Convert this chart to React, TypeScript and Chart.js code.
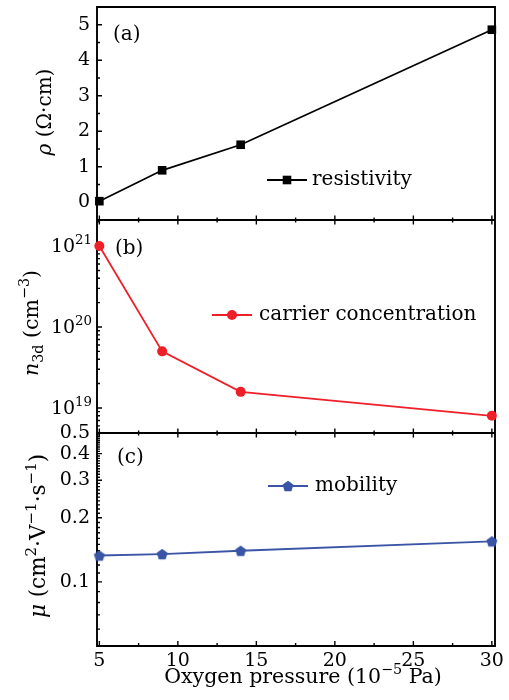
import React, { useEffect, useRef } from 'react';
import { Chart, registerables } from 'chart.js';

Chart.register(...registerables);

// ---- data ----
const pressure = [5, 9, 14, 30];
const resistivity = [0.03, 0.9, 1.62, 4.86];
const carrier = [1.0e21, 5.0e19, 1.58e19, 8.0e18];
const mobility = [0.133, 0.135, 0.14, 0.155];

const xTicks = [5, 10, 15, 20, 25, 30];
const rhoTicks = [0, 1, 2, 3, 4, 5];
const nTicks = [1e19, 1e20, 1e21];
const nTickExponents = ['19', '20', '21'];
const muTicks = [0.1, 0.2, 0.3, 0.4, 0.5];
const muTickLabels = ['0.1', '0.2', '0.3', '0.4', '0.5'];
const legendLabels = ['resistivity', 'carrier concentration', 'mobility'];
const panelLabels = ['(a)', '(b)', '(c)'];

const BLACK = '#000000';
const RED = '#EF1F29';
const BLUE = '#3A55A6';
const FAMILY = '"DejaVu Serif"';

type Seg = { t: string; it?: boolean; sup?: boolean; sub?: boolean };

const titleA: Seg[] = [{ t: 'ρ', it: true }, { t: ' (Ω·cm)' }];
const titleB: Seg[] = [{ t: 'n', it: true }, { t: '3d', sub: true }, { t: ' (cm' }, { t: '−3', sup: true }, { t: ')' }];
const titleC: Seg[] = [
  { t: 'μ', it: true }, { t: ' (cm' }, { t: '2', sup: true }, { t: '·V' }, { t: '−1', sup: true },
  { t: '·s' }, { t: '−1', sup: true }, { t: ')' },
];
const titleX: Seg[] = [{ t: 'Oxygen pressure (10' }, { t: '−5', sup: true }, { t: ' Pa)' }];

function fnt(size: number, italic = false) {
  return `${italic ? 'italic ' : ''}${size}px ${FAMILY}`;
}
function segFont(s: Seg, size: number) {
  return fnt(s.sup || s.sub ? size * 0.7 : size, !!s.it);
}
function richWidth(ctx: CanvasRenderingContext2D, segs: Seg[], size: number) {
  let w = 0;
  for (const s of segs) {
    ctx.font = segFont(s, size);
    w += ctx.measureText(s.t).width;
  }
  return w;
}
function drawRich(ctx: CanvasRenderingContext2D, segs: Seg[], x: number, y: number, size: number, align: 'left' | 'center' | 'right') {
  const w = richWidth(ctx, segs, size);
  let cx = align === 'center' ? x - w / 2 : align === 'right' ? x - w : x;
  ctx.textAlign = 'left';
  ctx.textBaseline = 'alphabetic';
  for (const s of segs) {
    ctx.font = segFont(s, size);
    const dy = s.sup ? -size * 0.42 : s.sub ? size * 0.24 : 0;
    ctx.fillText(s.t, cx, y + dy);
    cx += ctx.measureText(s.t).width;
  }
}

function makePentagon(color: string, r: number) {
  const c = document.createElement('canvas');
  const size = Math.ceil(r * 2 + 2);
  c.width = size;
  c.height = size;
  const g = c.getContext('2d')!;
  g.fillStyle = color;
  g.beginPath();
  for (let i = 0; i < 5; i++) {
    const a = -Math.PI / 2 + (i * 2 * Math.PI) / 5;
    const px = size / 2 + r * Math.cos(a);
    const py = size / 2 + 0.6 + r * Math.sin(a);
    if (i === 0) g.moveTo(px, py);
    else g.lineTo(px, py);
  }
  g.closePath();
  g.fill();
  return c;
}

const noPad = (s: any) => {
  s.paddingTop = 0;
  s.paddingBottom = 0;
  s.paddingLeft = 0;
  s.paddingRight = 0;
};

export default function App() {
  const ref = useRef<HTMLCanvasElement>(null);

  useEffect(() => {
    const canvas = ref.current!;
    const pent = makePentagon(BLUE, 5.8);

    const framePlugin = {
      id: 'frame',
      beforeDatasetsDraw(chart: any) {
        const ctx: CanvasRenderingContext2D = chart.ctx;
        const x = chart.scales.x;
        const ya = chart.scales.ya;
        const yb = chart.scales.yb;
        const yc = chart.scales.yc;
        const L = x.left, R = x.right;
        ctx.save();
        ctx.strokeStyle = BLACK;
        ctx.lineWidth = 1.9;
        ctx.beginPath();
        ctx.rect(L, ya.top, R - L, yc.bottom - ya.top);
        ctx.moveTo(L, ya.bottom);
        ctx.lineTo(R, ya.bottom);
        ctx.moveTo(L, yb.bottom);
        ctx.lineTo(R, yb.bottom);
        ctx.stroke();

        ctx.lineWidth = 1.4;
        ctx.beginPath();
        const yTick = (scale: any, v: number, len: number) => {
          const p = scale.getPixelForValue(v);
          if (p < scale.top + 1 || p > scale.bottom - 1) return;
          ctx.moveTo(L, p);
          ctx.lineTo(L + len, p);
        };
        // panel a
        for (let v = -0.5; v <= 5.5; v += 0.5) {
          yTick(ya, v, rhoTicks.includes(v) ? 5 : 3);
        }
        // panel b
        for (let e = 18; e <= 21; e++) {
          for (let m = 1; m <= 9; m++) {
            const v = m * Math.pow(10, e);
            yTick(yb, v, m === 1 ? 5 : 3);
          }
        }
        // panel c
        for (let k = 5; k <= 50; k++) {
          const v = k / 100;
          yTick(yc, v, k % 10 === 0 ? 5 : 3);
        }
        // x ticks
        const xs: { v: number; major: boolean }[] = [];
        for (let v = 5; v <= 30; v += 2.5) xs.push({ v, major: v % 5 === 0 });
        for (const t of xs) {
          const p = x.getPixelForValue(t.v);
          const lm = t.major ? 4.5 : 2.5;
          for (const yy of [ya.bottom, yb.bottom]) {
            ctx.moveTo(p, yy - lm);
            ctx.lineTo(p, yy + lm);
          }
          ctx.moveTo(p, yc.bottom);
          ctx.lineTo(p, yc.bottom - (t.major ? 5 : 3));
        }
        ctx.stroke();
        ctx.restore();
      },
      afterDraw(chart: any) {
        const ctx: CanvasRenderingContext2D = chart.ctx;
        const yb = chart.scales.yb;
        ctx.save();
        ctx.fillStyle = BLACK;

        // panel b tick labels 10^n
        nTicks.forEach((v, i) => {
          const p = yb.getPixelForValue(v);
          ctx.font = fnt(19 * 0.7);
          ctx.textAlign = 'right';
          ctx.textBaseline = 'alphabetic';
          const ew = ctx.measureText(nTickExponents[i]).width;
          ctx.fillText(nTickExponents[i], 92, p + 6 - 8);
          ctx.font = fnt(19);
          ctx.fillText('10', 92 - ew, p + 6);
        });

        // axis titles (rotated)
        const rot = (segs: Seg[], bx: number, cy: number, size: number) => {
          ctx.save();
          ctx.translate(bx, cy);
          ctx.rotate(-Math.PI / 2);
          drawRich(ctx, segs, 0, 0, size, 'center');
          ctx.restore();
        };
        rot(titleA, 51, 112, 20);
        rot(titleB, 38, 323, 20.5);
        rot(titleC, 45, 536, 21.5);

        // x title
        drawRich(ctx, titleX, 303, 683, 20.5, 'center');

        // panel labels
        ctx.font = fnt(20);
        ctx.textAlign = 'left';
        ctx.textBaseline = 'alphabetic';
        ctx.fillText(panelLabels[0], 113, 40);
        ctx.fillText(panelLabels[1], 115, 254);
        ctx.fillText(panelLabels[2], 117, 463);

        // legends
        const legend = (x0: number, y0: number, color: string, kind: string, label: string, tx: number, ty: number) => {
          ctx.strokeStyle = color;
          ctx.lineWidth = 1.8;
          ctx.beginPath();
          ctx.moveTo(x0, y0);
          ctx.lineTo(x0 + 40, y0);
          ctx.stroke();
          ctx.fillStyle = color;
          const cx = x0 + 20;
          if (kind === 'rect') {
            ctx.fillRect(cx - 4.3, y0 - 4.3, 8.6, 8.6);
          } else if (kind === 'circle') {
            ctx.beginPath();
            ctx.arc(cx, y0, 5, 0, Math.PI * 2);
            ctx.fill();
          } else {
            ctx.drawImage(pent, cx - pent.width / 2, y0 - pent.height / 2);
          }
          ctx.fillStyle = BLACK;
          ctx.font = fnt(20);
          ctx.textAlign = 'left';
          ctx.textBaseline = 'alphabetic';
          ctx.fillText(label, tx, ty);
        };
        legend(267, 180, BLACK, 'rect', legendLabels[0], 312, 185);
        legend(212, 315, RED, 'circle', legendLabels[1], 259, 320);
        legend(268, 486, BLUE, 'pent', legendLabels[2], 315, 491);

        ctx.restore();
      },
    };

    const tickFont = { family: 'DejaVu Serif', size: 19 };

    const chart = new Chart(canvas, {
      type: 'line',
      data: {
        datasets: [
          {
            label: legendLabels[0],
            data: pressure.map((x, i) => ({ x, y: resistivity[i] })),
            yAxisID: 'ya',
            borderColor: BLACK,
            backgroundColor: BLACK,
            borderWidth: 1.8,
            pointStyle: 'rect',
            pointRadius: 6.1,
            pointBorderWidth: 0,
            clip: false,
          },
          {
            label: legendLabels[1],
            data: pressure.map((x, i) => ({ x, y: carrier[i] })),
            yAxisID: 'yb',
            borderColor: RED,
            backgroundColor: RED,
            borderWidth: 1.8,
            pointStyle: 'circle',
            pointRadius: 5,
            pointBorderWidth: 0,
            clip: false,
          },
          {
            label: legendLabels[2],
            data: pressure.map((x, i) => ({ x, y: mobility[i] })),
            yAxisID: 'yc',
            borderColor: BLUE,
            backgroundColor: BLUE,
            borderWidth: 1.8,
            pointStyle: pent as any,
            pointRadius: 6,
            pointBorderWidth: 0,
            clip: false,
          },
        ],
      },
      options: {
        animation: false,
        responsive: false,
        devicePixelRatio: 1,
        layout: { padding: { left: 0, top: 7, right: 14, bottom: 0 } },
        plugins: { legend: { display: false }, tooltip: { enabled: false } },
        events: [],
        scales: {
          x: {
            type: 'linear',
            min: 4.85,
            max: 30.2,
            grid: { display: false, drawTicks: false },
            border: { display: false },
            afterBuildTicks: (s: any) => {
              s.ticks = xTicks.map((v) => ({ value: v }));
            },
            afterFit: (s: any) => {
              s.height = 54;
              noPad(s);
            },
            ticks: {
              font: tickFont,
              color: BLACK,
              padding: 4,
              maxRotation: 0,
              autoSkip: false,
              callback: (v: any) => String(v),
            },
          },
          ya: {
            type: 'linear',
            position: 'left',
            stack: 'panels',
            stackWeight: 1,
            weight: 3,
            min: -0.5,
            max: 5.5,
            grid: { display: false, drawTicks: false },
            border: { display: false },
            afterBuildTicks: (s: any) => {
              s.ticks = rhoTicks.map((v) => ({ value: v }));
            },
            afterFit: (s: any) => {
              s.width = 97;
              noPad(s);
            },
            ticks: {
              font: tickFont,
              color: BLACK,
              padding: 7,
              autoSkip: false,
              callback: (v: any) => String(v),
            },
          },
          yb: {
            type: 'logarithmic',
            position: 'left',
            stack: 'panels',
            stackWeight: 1,
            weight: 2,
            min: 4.9e18,
            max: 2.1e21,
            grid: { display: false, drawTicks: false },
            border: { display: false },
            afterBuildTicks: (s: any) => {
              s.ticks = nTicks.map((v) => ({ value: v }));
            },
            afterFit: (s: any) => {
              s.width = 97;
              noPad(s);
            },
            ticks: { display: false },
          },
          yc: {
            type: 'logarithmic',
            position: 'left',
            stack: 'panels',
            stackWeight: 1,
            weight: 1,
            min: 0.05,
            max: 0.5,
            grid: { display: false, drawTicks: false },
            border: { display: false },
            afterBuildTicks: (s: any) => {
              s.ticks = muTicks.map((v) => ({ value: v }));
            },
            afterFit: (s: any) => {
              s.width = 97;
              noPad(s);
            },
            ticks: {
              font: tickFont,
              color: BLACK,
              padding: 7,
              autoSkip: false,
              callback: (_v: any, i: number) => muTickLabels[i],
            },
          },
        },
      } as any,
      plugins: [framePlugin],
    });

    return () => chart.destroy();
  }, []);

  return (
    <div style={{ position: 'absolute', left: 0, top: 0, width: 509, height: 700, background: '#fff' }}>
      <canvas ref={ref} width={509} height={700} style={{ display: 'block' }} />
    </div>
  );
}
